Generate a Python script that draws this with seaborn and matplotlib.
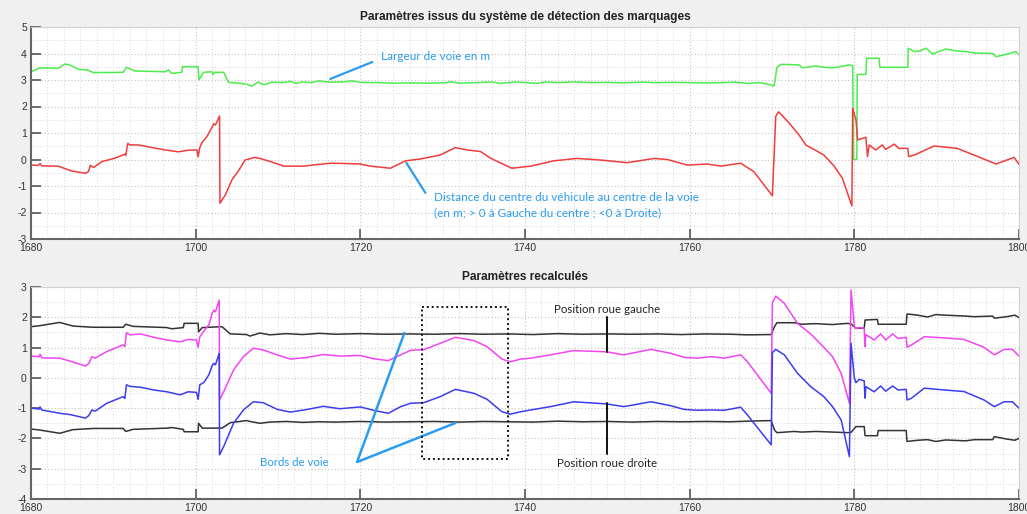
import numpy as np
import pandas as pd
import seaborn as sns
import matplotlib
matplotlib.use("Agg")
import matplotlib.pyplot as plt
from matplotlib.ticker import MultipleLocator

# ---------------- data ----------------
# Top panel: lane width (m)
width_x = [1680, 1681.1, 1683.3, 1684.1, 1684.7, 1685.8, 1686.8, 1687.6, 1691.2, 1691.6, 1692.6,
           1696.3, 1696.7, 1697.1, 1698.3, 1698.4, 1700.3, 1700.4, 1700.95, 1702.0, 1702.1, 1702.3,
           1703.4, 1704.0, 1705.2, 1706.1, 1706.8, 1707.6, 1708.3, 1709.3, 1710.5, 1711.5, 1712.2,
           1713, 1714, 1715, 1716, 1718, 1719, 1720, 1722, 1724, 1726, 1728, 1730, 1731, 1732, 1734,
           1736, 1737, 1739, 1740, 1741.5, 1742.5, 1744, 1746, 1748, 1750, 1752, 1754, 1756, 1758,
           1760, 1762, 1764, 1765.5, 1767, 1768.5, 1769.8, 1770.25, 1770.6, 1771.1, 1773.3, 1773.7,
           1775.3, 1776.3, 1777.35, 1778.5, 1779.4, 1779.8, 1779.9, 1780.3, 1780.35, 1781.4, 1781.5,
           1783.0, 1783.1, 1786.5, 1786.55, 1787.3, 1788.0, 1788.7, 1789.5, 1790.1, 1791.1, 1792.3,
           1793.6, 1794.6, 1796.8, 1797.2, 1798.5, 1799.6, 1800]
width_y = [3.31, 3.46, 3.44, 3.60, 3.57, 3.40, 3.38, 3.28, 3.29, 3.48, 3.34,
           3.31, 3.38, 3.25, 3.29, 3.50, 3.50, 3.00, 3.29, 3.31, 3.20, 3.29,
           3.29, 2.91, 2.88, 2.85, 2.77, 2.92, 2.82, 2.92, 2.90, 2.95, 2.87,
           2.93, 2.90, 2.97, 2.92, 2.93, 2.97, 2.91, 2.90, 2.88, 2.89, 2.88, 2.89, 2.93, 2.88, 2.90,
           2.93, 2.87, 2.93, 2.90, 2.87, 2.93, 2.90, 2.93, 2.90, 2.91, 2.89, 2.92, 2.90, 2.91,
           2.90, 2.89, 2.90, 2.92, 2.87, 2.90, 2.82, 2.77, 3.48, 3.59, 3.57, 3.46,
           3.53, 3.48, 3.46, 3.52, 3.57, 3.53, 0.00, 0.00, 3.21, 3.21, 3.82,
           3.82, 3.48, 3.48, 4.20, 4.07, 4.10, 4.20, 3.98, 4.06, 4.17, 4.10,
           4.07, 4.02, 4.00, 3.88, 3.97, 4.07, 3.95]

# Top panel: distance vehicle centre -> lane centre (m)
dist_x = [1680, 1680.9, 1681.1, 1681.3, 1683.3, 1684.9, 1686.6, 1687.0, 1687.2, 1687.6, 1688.6,
          1690.2, 1691.4, 1691.5, 1691.75, 1692.0, 1693.05, 1694.7, 1696.3, 1697.9, 1699.1, 1700.15,
          1700.3, 1700.5, 1700.75, 1701.35, 1702.0, 1702.2, 1702.4, 1702.9, 1702.95, 1703.6, 1704.4,
          1705.2, 1706.0, 1707.2, 1707.8, 1709.3, 1710.7, 1713.1, 1714.5, 1716.4, 1718, 1720.0,
          1721.2, 1723.65, 1725.5, 1727.3, 1729.7, 1731.55, 1733, 1734.6, 1735.8, 1738.4, 1740.7,
          1743.5, 1746.3, 1749.2, 1752.4, 1755.7, 1757.3, 1759.7, 1762.15, 1763.8, 1766.2, 1767.8,
          1770.05, 1770.45, 1770.8, 1772.1, 1773.3, 1774.1, 1776.3, 1777.55, 1778.55, 1779.7,
          1779.8, 1780.2, 1780.4, 1781.4, 1781.6, 1781.8, 1782.6, 1783.4, 1783.8, 1784.85, 1785.4,
          1786.5, 1786.6, 1787.3, 1789.7, 1792.5, 1795.0, 1797.2, 1799.4, 1800]
dist_y = [-0.21, -0.22, -0.15, -0.24, -0.25, -0.43, -0.52, -0.45, -0.22, -0.30, -0.08,
          0.05, 0.20, 0.15, 0.61, 0.55, 0.55, 0.45, 0.36, 0.29, 0.35, 0.36,
          0.10, 0.45, 0.63, 0.86, 1.22, 1.35, 1.30, 1.64, -1.65, -1.34, -0.77,
          -0.43, -0.02, 0.08, 0.04, -0.10, -0.25, -0.25, -0.20, -0.14, -0.15, -0.17,
          -0.25, -0.33, -0.05, 0.02, 0.17, 0.45, 0.36, 0.30, 0.05, -0.33, -0.25,
          -0.05, 0.04, -0.02, -0.12, 0.04, 0.00, -0.21, -0.17, -0.25, -0.14, -0.46,
          -1.37, 1.62, 1.80, 1.37, 0.92, 0.55, 0.17, -0.25, -0.71, -1.75,
          1.93, 1.49, 0.74, 0.84, 0.11, 0.55, 0.36, 0.55, 0.38, 0.58, 0.42,
          0.42, 0.11, 0.17, 0.51, 0.42, 0.11, -0.17, 0.08, -0.18]

# Bottom panel: lane edges (magenta = left edge, blue = right edge)
edge_x = [1680, 1681.0, 1681.1, 1681.3, 1683.5, 1684.9, 1686.6, 1687.0, 1687.4, 1687.8, 1689.2,
          1691.2, 1691.4, 1691.6, 1692.0, 1693.3, 1694.9, 1696.5, 1698.1, 1699.1, 1700.1, 1700.3,
          1700.5, 1701.0, 1701.6, 1702.0, 1702.2, 1702.4, 1702.86, 1702.9, 1703.4, 1704.6, 1705.8,
          1707.0, 1708.2, 1709.9, 1711.5, 1713.4, 1715.5, 1717.5, 1720.0, 1721.6, 1723.4, 1724.9,
          1726.1, 1727.7, 1729.7, 1731.55, 1733.8, 1735.4, 1737.2, 1738.2, 1739.45, 1740.7, 1743.1,
          1745.9, 1749.9, 1752.0, 1755.3, 1757.7, 1759.3, 1760.9, 1762.6, 1764.2, 1766.2, 1767.0,
          1769.9, 1770.05, 1770.45, 1771.5, 1773.1, 1774.7, 1776.3, 1777.35, 1778.4, 1779.4,
          1779.6, 1780.0, 1780.2, 1780.6, 1781.2, 1781.3, 1781.4, 1782.4, 1783.2, 1783.8, 1784.65,
          1785.3, 1786.3, 1786.4, 1786.9, 1788.5, 1790.9, 1793.3, 1795.75, 1797.0, 1798.2, 1799.2,
          1800.0]
left_edge = [0.72, 0.70, 0.78, 0.66, 0.65, 0.54, 0.39, 0.47, 0.70, 0.65, 0.87,
             1.09, 1.03, 1.49, 1.42, 1.45, 1.34, 1.25, 1.19, 1.27, 1.25, 1.01,
             1.35, 1.55, 1.75, 2.13, 2.23, 2.18, 2.57, -0.73, -0.46, 0.26, 0.70,
             0.98, 0.92, 0.76, 0.62, 0.67, 0.77, 0.72, 0.74, 0.63, 0.57, 0.76,
             0.91, 0.93, 1.14, 1.34, 1.23, 1.03, 0.62, 0.53, 0.62, 0.65, 0.76,
             0.90, 0.86, 0.76, 0.94, 0.81, 0.68, 0.65, 0.70, 0.65, 0.76, 0.54,
             -0.51, 2.48, 2.70, 2.46, 1.80, 1.45, 1.01, 0.70, 0.15, -0.84,
             2.90, 1.69, 1.63, 1.66, 1.64, 1.03, 1.43, 1.25, 1.45, 1.25, 1.45,
             1.30, 1.34, 1.01, 1.08, 1.36, 1.32, 1.27, 1.01, 0.76, 0.94, 0.94,
             0.72]
right_edge = [-1.00, -1.03, -0.96, -1.06, -1.17, -1.22, -1.33, -1.25, -1.06, -1.10, -0.84,
              -0.62, -0.68, -0.23, -0.28, -0.31, -0.40, -0.46, -0.56, -0.46, -0.48, -0.71,
              -0.23, -0.15, 0.10, 0.40, 0.48, 0.43, 0.81, -2.54, -2.27, -1.50, -1.06,
              -0.79, -0.82, -1.04, -1.13, -1.05, -0.94, -1.02, -0.96, -1.07, -1.17, -0.95,
              -0.84, -0.82, -0.62, -0.38, -0.51, -0.71, -1.12, -1.20, -1.12, -1.06, -0.95,
              -0.79, -0.86, -0.95, -0.79, -0.92, -1.04, -1.07, -1.06, -1.07, -0.97, -1.22,
              -2.21, 0.83, 0.94, 0.76, 0.15, -0.29, -0.62, -0.95, -1.39, -2.60,
              1.14, -0.01, -0.16, -0.05, -0.10, -0.67, -0.29, -0.46, -0.27, -0.44, -0.27,
              -0.40, -0.38, -0.73, -0.68, -0.34, -0.40, -0.45, -0.73, -0.95, -0.79, -0.79,
              -1.00]

# Bottom panel: wheel positions
wheel_x = [1680, 1681, 1683.5, 1685.1, 1687.6, 1691.2, 1691.5, 1692.4, 1696.5, 1697.1, 1698.5,
           1698.6, 1700.3, 1700.35, 1700.8, 1703.2, 1704.2, 1706.2, 1706.6, 1707.8, 1709, 1711,
           1713, 1715, 1717, 1720, 1723, 1726, 1729, 1732, 1735, 1738, 1741, 1744, 1747, 1750,
           1753, 1756, 1759, 1762, 1765, 1767, 1769.9, 1770.3, 1770.6, 1772.7, 1773.6, 1775.3,
           1777.35, 1779.2, 1779.6, 1780.2, 1781.2, 1781.3, 1782.8, 1782.9, 1786.3, 1786.4,
           1787.7, 1788.9, 1789.9, 1791.1, 1793.5, 1794.6, 1796.8, 1797.0, 1798.5, 1799.5, 1800]
left_wheel = [1.69, 1.72, 1.83, 1.71, 1.67, 1.67, 1.77, 1.70, 1.66, 1.62, 1.66,
              1.80, 1.80, 1.52, 1.66, 1.69, 1.45, 1.43, 1.38, 1.48, 1.42, 1.46,
              1.43, 1.47, 1.44, 1.46, 1.44, 1.45, 1.44, 1.46, 1.44, 1.45, 1.43, 1.46, 1.44, 1.45,
              1.44, 1.45, 1.43, 1.45, 1.44, 1.42, 1.43, 1.69, 1.82, 1.82, 1.77, 1.79,
              1.76, 1.80, 1.78, 1.64, 1.64, 1.91, 1.93, 1.77, 1.77, 2.11,
              2.07, 2.01, 2.09, 2.07, 2.04, 2.02, 2.04, 1.97, 2.02, 2.07, 1.99]
right_wheel = [-1.69, -1.72, -1.83, -1.71, -1.67, -1.67, -1.77, -1.70, -1.66, -1.64, -1.70,
               -1.78, -1.78, -1.50, -1.66, -1.66, -1.48, -1.41, -1.44, -1.50, -1.46, -1.44,
               -1.47, -1.45, -1.46, -1.44, -1.46, -1.45, -1.44, -1.46, -1.44, -1.45, -1.46, -1.43, -1.45, -1.44,
               -1.46, -1.44, -1.45, -1.44, -1.45, -1.43, -1.41, -1.72, -1.81, -1.77, -1.79, -1.77,
               -1.79, -1.81, -1.80, -1.61, -1.61, -1.91, -1.91, -1.74, -1.74, -2.10,
               -2.06, -2.04, -2.10, -2.05, -2.08, -2.04, -2.04, -1.94, -2.02, -2.06, -2.00]

top_title = "Paramètres issus du système de détection des marquages"
bottom_title = "Paramètres recalculés"
x_ticks = [1680, 1700, 1720, 1740, 1760, 1780, 1800]
top_yticks = [-3, -2, -1, 0, 1, 2, 3, 4, 5]
bottom_yticks = [-4, -3, -2, -1, 0, 1, 2, 3]

# ---------------- styling ----------------
sns.set_theme(style="white")
plt.rcParams["font.family"] = ["Liberation Sans", "DejaVu Sans"]
plt.rcParams["axes.unicode_minus"] = False

GREEN = "#4cec4c"
RED = "#f03c3c"
MAGENTA = "#f245f2"
BLUE = "#3c3cf0"
BLACK = "#333333"
ANN = "#2b9cf0"

fig = plt.figure(figsize=(10.27, 5.14), dpi=100, facecolor="#f0f0f0")
ax1 = fig.add_axes([31/1027, 1-239/514, 988/1027, 212/514])
ax2 = fig.add_axes([31/1027, 1-499/514, 988/1027, 212/514])

top_w = pd.DataFrame({"x": width_x, "y": width_y})
top_d = pd.DataFrame({"x": dist_x, "y": dist_y})
sns.lineplot(data=top_w, x="x", y="y", ax=ax1, color=GREEN, lw=1.1, sort=False, estimator=None)
sns.lineplot(data=top_d, x="x", y="y", ax=ax1, color=RED, lw=1.1, sort=False, estimator=None)

edges = pd.DataFrame({"x": edge_x, "left": left_edge, "right": right_edge})
wheels = pd.DataFrame({"x": wheel_x, "left": left_wheel, "right": right_wheel})
sns.lineplot(data=wheels, x="x", y="left", ax=ax2, color=BLACK, lw=1.1, sort=False, estimator=None)
sns.lineplot(data=wheels, x="x", y="right", ax=ax2, color=BLACK, lw=1.1, sort=False, estimator=None)
sns.lineplot(data=edges, x="x", y="left", ax=ax2, color=MAGENTA, lw=1.1, sort=False, estimator=None)
sns.lineplot(data=edges, x="x", y="right", ax=ax2, color=BLUE, lw=1.1, sort=False, estimator=None)


def style_axes(ax, yticks, title):
    ax.set_facecolor("white")
    ax.set_xlim(1680, 1800)
    ax.set_ylim(yticks[0], yticks[-1])
    ax.set_xticks(x_ticks)
    ax.set_yticks(yticks)
    ax.xaxis.set_minor_locator(MultipleLocator(2))
    ax.yaxis.set_minor_locator(MultipleLocator(0.5))
    ax.grid(which="major", linestyle=(0, (1, 2)), color="#c4c4c4", lw=0.8)
    ax.grid(which="minor", linestyle=(0, (1, 2)), color="#d8d8d8", lw=0.7)
    ax.set_axisbelow(True)
    ax.set_xlabel("")
    ax.set_ylabel("")
    ax.tick_params(which="major", direction="in", length=7, width=1.2, color="#555555",
                   labelsize=7.5, labelcolor="#333333", left=True, bottom=True, pad=3)
    ax.tick_params(which="minor", length=0)
    for s in ["left", "bottom"]:
        ax.spines[s].set_color("#666666")
        ax.spines[s].set_linewidth(1.5)
    for s in ["top", "right"]:
        ax.spines[s].set_color("#d0d0d0")
        ax.spines[s].set_linewidth(0.8)
    ax.set_title(title, fontsize=8.6, fontweight="bold", color="#222222", pad=5)


style_axes(ax1, top_yticks, top_title)
style_axes(ax2, bottom_yticks, bottom_title)

afont = ["Lato", "DejaVu Sans"]

# Top annotations
ax1.plot([1716.35, 1721.46], [3.04, 3.68], color=ANN, lw=1.6)
ax1.text(1722.55, 3.87, "Largeur de voie en m", color=ANN, fontsize=8.5, family=afont,
         ha="left", va="center")
ax1.plot([1725.6, 1727.9], [-0.13, -1.26], color=ANN, lw=1.6)
ax1.text(1729.0, -1.42, "Distance du centre du véhicule au centre de la voie", color=ANN,
         fontsize=8.5, family=afont, ha="left", va="center")
ax1.text(1729.0, -2.0, "(en m; > 0 à Gauche du centre ; <0 à Droite)", color=ANN,
         fontsize=8.5, family=afont, ha="left", va="center")

# Bottom annotations
ax2.plot([1725.35, 1719.6, 1731.55], [1.48, -2.78, -1.49], color=ANN, lw=1.8)
ax2.text(1707.8, -2.78, "Bords de voie", color=ANN, fontsize=8.2, family=afont,
         ha="left", va="center")
ax2.plot([1727.5, 1737.9, 1737.9, 1727.5, 1727.5], [2.34, 2.34, -2.68, -2.68, 2.34],
         color="#111111", lw=1.4, linestyle=(0, (1, 1.5)))
ax2.plot([1750, 1750], [2.01, 0.85], color="#111111", lw=1.4)
ax2.plot([1750, 1750], [-0.83, -2.51], color="#111111", lw=1.4)
ax2.text(1750, 2.27, "Position roue gauche", color="#222222", fontsize=8.3, family=afont,
         ha="center", va="center")
ax2.text(1750, -2.84, "Position roue droite", color="#222222", fontsize=8.3, family=afont,
         ha="center", va="center")

fig.savefig("out.png", dpi=100, facecolor=fig.get_facecolor())
